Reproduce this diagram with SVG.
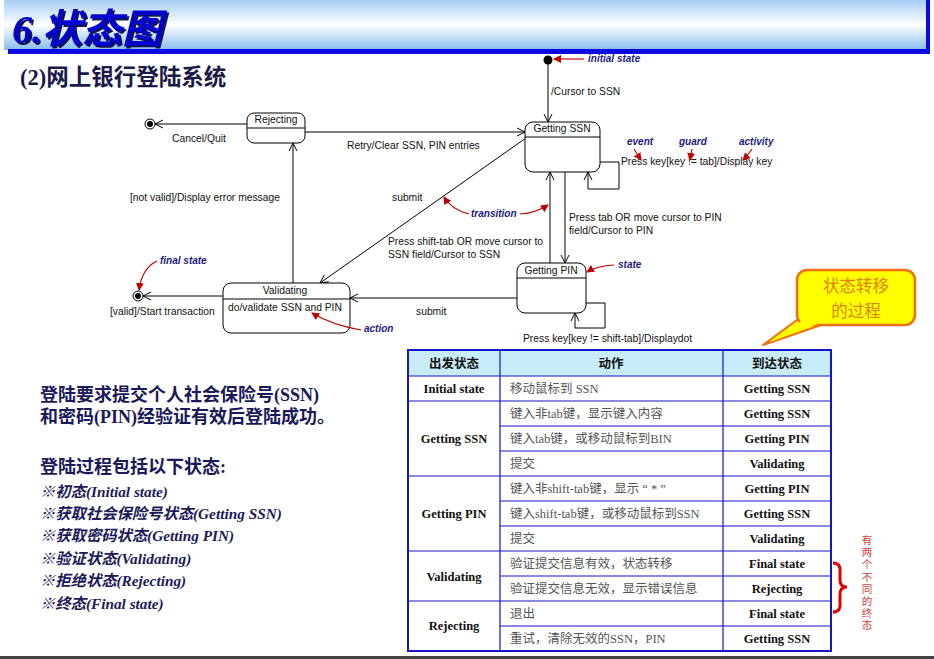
<svg xmlns="http://www.w3.org/2000/svg" width="934" height="659" viewBox="0 0 934 659">
<defs>
<linearGradient id="ban" x1="0" y1="0" x2="0" y2="1">
<stop offset="0" stop-color="#a6cdf6"/>
<stop offset="0.5" stop-color="#ffffff"/>
<stop offset="1" stop-color="#86bcf0"/>
</linearGradient>
<filter id="sh" x="-10%" y="-10%" width="130%" height="130%">
<feDropShadow dx="2" dy="2" stdDeviation="0.6" flood-color="#000033" flood-opacity="0.9"/>
</filter>
<marker id="open" markerWidth="10" markerHeight="10" refX="9" refY="5" orient="auto" markerUnits="userSpaceOnUse">
<path d="M1,1 L9,5 L1,9" fill="none" stroke="#000" stroke-width="1"/>
</marker>
<marker id="red" markerWidth="8" markerHeight="8" refX="7" refY="4" orient="auto" markerUnits="userSpaceOnUse">
<path d="M0,0 L8,4 L0,8 Z" fill="#c00000"/>
</marker>
</defs>
<style>
.st{fill:#fff;stroke:#000;stroke-width:1}
.ln{fill:none;stroke:#000;stroke-width:1}
.ar{fill:none;stroke:#000;stroke-width:1;marker-end:url(#open)}
.ra{fill:none;stroke:#c00000;stroke-width:1.2;marker-end:url(#red)}
.t{font-family:"Liberation Sans",Arial,sans-serif;font-size:10.3px;fill:#111}
.an{font-family:"Liberation Sans",Arial,sans-serif;font-size:10px;font-style:italic;font-weight:bold;fill:#1a1a80}
.cell{font-family:"Liberation Serif","Noto Sans CJK SC",serif;font-size:12.5px;font-weight:bold;fill:#111}
.act{font-family:"Liberation Serif","Noto Sans CJK SC",serif;font-size:12.5px;fill:#555}
.lt{font-family:"Liberation Serif","Noto Sans CJK SC",serif;font-size:18px;font-weight:bold;fill:#1a1a5a}
.li{font-family:"Liberation Serif","Noto Sans CJK SC",serif;font-size:15.3px;font-weight:bold;font-style:italic;fill:#1a1a5a}
.tb{stroke:#1414c8;stroke-width:1.2;fill:none}
</style>

<g id="banner">
<rect x="4" y="0" width="924" height="50" fill="url(#ban)"/>
<rect x="8" y="49" width="922" height="5" fill="#0a0ae0"/>
<rect x="926" y="0" width="4" height="54" fill="#0a0ae0"/>
<text x="12" y="43" font-family="Liberation Serif,'Noto Sans CJK SC',serif" font-size="40" font-weight="bold" font-style="italic" fill="#0000d0" filter="url(#sh)">6.状态图</text>
</g>
<text x="20" y="85" font-family="Liberation Serif,'Noto Sans CJK SC',serif" font-size="22.5" font-weight="bold" fill="#1a1a4a">(2)网上银行登陆系统</text>

<g id="connectors">
<line class="ar" x1="548" y1="61" x2="548" y2="122"/>
<line class="ar" x1="305" y1="132" x2="525" y2="132"/>
<line class="ar" x1="247" y1="124" x2="155" y2="124"/>
<line class="ar" x1="293" y1="283" x2="293" y2="143"/>
<line class="ar" x1="223" y1="296" x2="143" y2="296"/>
<line class="ar" x1="526" y1="138" x2="320" y2="283"/>
<line class="ar" x1="550" y1="263" x2="550" y2="172"/>
<line class="ar" x1="565" y1="172" x2="565" y2="263"/>
<line class="ar" x1="517" y1="298" x2="350" y2="298"/>
<polyline class="ar" points="600,162 619,162 619,189 588,189 588,172"/>
<polyline class="ar" points="586,303 605,303 605,328 575,328 575,313"/>
</g>

<g id="initial">
<circle cx="548" cy="60" r="4.5" fill="#000"/>
</g>
<g id="final1">
<circle cx="150" cy="124" r="5" fill="#fff" stroke="#000"/>
<circle cx="150" cy="124" r="3" fill="#000"/>
</g>
<g id="final2">
<circle cx="138" cy="296" r="5" fill="#fff" stroke="#000"/>
<circle cx="138" cy="296" r="3" fill="#000"/>
</g>

<g id="gettingSSN">
<rect class="st" x="525" y="122" width="75" height="50" rx="8"/>
<line class="ln" x1="525" y1="137" x2="600" y2="137"/>
<text class="t" x="562" y="132" text-anchor="middle">Getting SSN</text>
</g>
<g id="rejecting">
<rect class="st" x="247" y="113" width="58" height="30" rx="7"/>
<line class="ln" x1="247" y1="128" x2="305" y2="128"/>
<text class="t" x="276" y="123" text-anchor="middle">Rejecting</text>
</g>
<g id="validating">
<rect class="st" x="223" y="283" width="127" height="50" rx="8"/>
<line class="ln" x1="223" y1="299" x2="350" y2="299"/>
<text class="t" x="285" y="294" text-anchor="middle">Validating</text>
<text class="t" x="228" y="311">do/validate SSN and PIN</text>
</g>
<g id="gettingPIN">
<rect class="st" x="517" y="263" width="69" height="50" rx="8"/>
<line class="ln" x1="517" y1="278" x2="586" y2="278"/>
<text class="t" x="551" y="273.5" text-anchor="middle">Getting PIN</text>
</g>

<g id="labels">
<text class="t" x="551" y="95">/Cursor to SSN</text>
<text class="t" x="621" y="165">Press key[key != tab]/Display key</text>
<text class="t" x="172" y="142">Cancel/Quit</text>
<text class="t" x="347" y="149">Retry/Clear SSN, PIN entries</text>
<text class="t" x="130" y="201">[not valid]/Display error message</text>
<text class="t" x="392" y="201">submit</text>
<text class="t" x="569" y="221">Press tab OR move cursor to PIN</text>
<text class="t" x="569" y="234">field/Cursor to PIN</text>
<text class="t" x="388" y="245">Press shift-tab OR move cursor to</text>
<text class="t" x="388" y="258">SSN field/Cursor to SSN</text>
<text class="t" x="110" y="315">[valid]/Start transaction</text>
<text class="t" x="416" y="315">submit</text>
<text class="t" x="523" y="342">Press key[key != shift-tab]/Displaydot</text>
</g>

<g id="annotations">
<text class="an" x="588" y="62">initial state</text>
<line class="ra" x1="584" y1="59" x2="554" y2="59"/>
<text class="an" x="627" y="145">event</text>
<path class="ra" d="M634,149 Q637,154 641,160"/>
<text class="an" x="679" y="145">guard</text>
<path class="ra" d="M692,149 Q691,154 690,160"/>
<text class="an" x="739" y="145">activity</text>
<path class="ra" d="M752,149 Q748,155 743,160"/>
<text class="an" x="471" y="217">transition</text>
<path class="ra" d="M469,214 Q452,210 444,197"/>
<path class="ra" d="M520,214 Q536,213 548,205"/>
<text class="an" x="160" y="264">final state</text>
<path class="ra" d="M157,261 Q142,268 139,290"/>
<text class="an" x="618" y="268">state</text>
<path class="ra" d="M614,265 Q597,266 587,272"/>
<text class="an" x="364" y="332">action</text>
<path class="ra" d="M361,330 Q332,325 312,313"/>
</g>

<g id="callout">
<polygon points="805,314 830,322 763,345" fill="#ffff00" stroke="#f07010" stroke-width="2" stroke-linejoin="round"/>
<rect x="797" y="270" width="118" height="55" rx="10" fill="#ffff00" stroke="#f07010" stroke-width="2.5"/>
<polygon points="806,318 828,320 770,342" fill="#ffff00"/>
<text x="856" y="292" text-anchor="middle" font-family="'Noto Sans CJK SC',sans-serif" font-size="16.5" fill="#e08000">状态转移</text>
<text x="856" y="317" text-anchor="middle" font-family="'Noto Sans CJK SC',sans-serif" font-size="16.5" fill="#e08000">的过程</text>
</g>

<g id="table">
<rect x="408" y="350" width="423" height="26" fill="#c8ecfa"/>
<rect x="408" y="350" width="423" height="301" fill="none" stroke="#1414c8" stroke-width="2"/>
<line class="tb" x1="500" y1="350" x2="500" y2="651"/>
<line class="tb" x1="723" y1="350" x2="723" y2="651"/>
<line class="tb" x1="408" y1="376" x2="831" y2="376" stroke-width="2"/>
<line class="tb" x1="408" y1="401" x2="831" y2="401" stroke-width="2"/>
<line class="tb" x1="500" y1="426" x2="831" y2="426"/>
<line class="tb" x1="500" y1="451" x2="831" y2="451"/>
<line class="tb" x1="408" y1="476" x2="831" y2="476" stroke-width="2"/>
<line class="tb" x1="500" y1="501" x2="831" y2="501"/>
<line class="tb" x1="500" y1="526" x2="831" y2="526"/>
<line class="tb" x1="408" y1="551" x2="831" y2="551" stroke-width="2"/>
<line class="tb" x1="500" y1="576" x2="831" y2="576"/>
<line class="tb" x1="408" y1="601" x2="831" y2="601" stroke-width="2"/>
<line class="tb" x1="500" y1="626" x2="831" y2="626"/>

<text class="cell" x="454" y="368" text-anchor="middle">出发状态</text>
<text class="cell" x="611" y="368" text-anchor="middle">动作</text>
<text class="cell" x="777" y="368" text-anchor="middle">到达状态</text>

<text class="cell" x="454" y="393" text-anchor="middle">Initial state</text>
<text class="cell" x="454" y="443" text-anchor="middle">Getting SSN</text>
<text class="cell" x="454" y="518" text-anchor="middle">Getting PIN</text>
<text class="cell" x="454" y="581" text-anchor="middle">Validating</text>
<text class="cell" x="454" y="630" text-anchor="middle">Rejecting</text>

<text class="act" x="510" y="393">移动鼠标到 SSN</text>
<text class="act" x="510" y="418">键入非tab键，显示键入内容</text>
<text class="act" x="510" y="443">键入tab键，或移动鼠标到BIN</text>
<text class="act" x="510" y="468">提交</text>
<text class="act" x="510" y="493">键入非shift-tab键，显示 “ * ”</text>
<text class="act" x="510" y="518">键入shift-tab键，或移动鼠标到SSN</text>
<text class="act" x="510" y="543">提交</text>
<text class="act" x="510" y="568">验证提交信息有效，状态转移</text>
<text class="act" x="510" y="593">验证提交信息无效，显示错误信息</text>
<text class="act" x="510" y="618">退出</text>
<text class="act" x="510" y="643">重试，清除无效的SSN，PIN</text>

<text class="cell" x="777" y="393" text-anchor="middle">Getting SSN</text>
<text class="cell" x="777" y="418" text-anchor="middle">Getting SSN</text>
<text class="cell" x="777" y="443" text-anchor="middle">Getting PIN</text>
<text class="cell" x="777" y="468" text-anchor="middle">Validating</text>
<text class="cell" x="777" y="493" text-anchor="middle">Getting PIN</text>
<text class="cell" x="777" y="518" text-anchor="middle">Getting SSN</text>
<text class="cell" x="777" y="543" text-anchor="middle">Validating</text>
<text class="cell" x="777" y="568" text-anchor="middle">Final state</text>
<text class="cell" x="777" y="593" text-anchor="middle">Rejecting</text>
<text class="cell" x="777" y="618" text-anchor="middle">Final state</text>
<text class="cell" x="777" y="643" text-anchor="middle">Getting SSN</text>
</g>

<g id="brace">
<path d="M833,563 Q841,563 840,572 L840,580 Q840,587 847,587 Q840,587 840,594 L840,603 Q841,612 833,612" fill="none" stroke="#e00000" stroke-width="3"/>
<text x="867" y="535" style="writing-mode:vertical-rl" font-family="'Noto Sans CJK SC',serif" font-size="10.5" letter-spacing="1.6" fill="#d04040">有两个不同的终态</text>
</g>

<g id="leftText">
<text class="lt" x="40" y="401">登陆要求提交个人社会保险号(SSN)</text>
<text class="lt" x="40" y="423">和密码(PIN)经验证有效后登陆成功。</text>
<text class="lt" x="40" y="473">登陆过程包括以下状态:</text>
<text class="li" x="40" y="497">※初态(Initial state)</text>
<text class="li" x="40" y="519">※获取社会保险号状态(Getting SSN)</text>
<text class="li" x="40" y="541">※获取密码状态(Getting PIN)</text>
<text class="li" x="40" y="564">※验证状态(Validating)</text>
<text class="li" x="40" y="586">※拒绝状态(Rejecting)</text>
<text class="li" x="40" y="609">※终态(Final state)</text>
</g>
<rect x="0" y="656" width="934" height="3" fill="#444"/>
</svg>
